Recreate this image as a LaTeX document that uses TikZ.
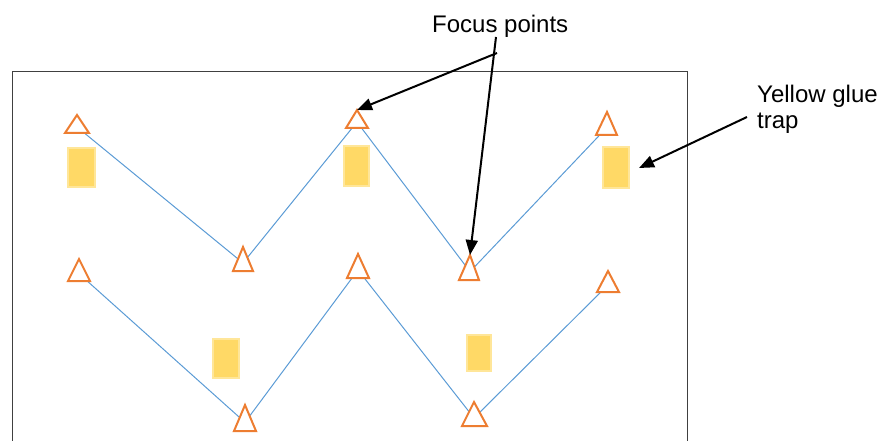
\documentclass[tikz,border=0pt]{standalone}
\usepackage{fontspec}
\setmainfont{Liberation Sans}
\usetikzlibrary{arrows.meta}
\definecolor{trapfill}{HTML}{FFD966}
\definecolor{trapedge}{HTML}{FFE699}
\definecolor{markorange}{HTML}{ED7D31}
\definecolor{pathblue}{HTML}{5B9BD5}
\definecolor{framegray}{HTML}{404040}
% \marker{name}{apex x}{apex y}{base y}{base left x}{base right x}
\newcommand\marker[6]{%
  \draw[markstyle] (#5,#4) -- (#2,#3) -- (#6,#4) -- cycle;
  \coordinate (#1-apex) at (#2,#3);
}
% centre points of the markers, used by the walking path
\newcommand\markcentre[4]{\coordinate (#1) at (#2,{#3+2*(#4-#3)/3});}
\begin{document}
\begin{tikzpicture}[x=1pt,y=-1pt,
  markstyle/.style={draw=markorange,line width=2pt,fill=white,line join=miter},
  walk/.style={draw=pathblue,line width=1pt},
  trapbox/.style={rectangle,fill=trapfill,draw=trapedge,line width=1.5pt,inner sep=0pt},
  callout/.style={draw=black,line width=2pt,-{Triangle[length=15pt,width=12pt]}},
  label/.style={inner sep=0pt,font=\fontsize{24}{26}\selectfont,align=left}]
\path[use as bounding box] (0,0) rectangle (889,441);

% field boundary (continues below the lower edge)
\draw[framegray,line width=1pt] (12,441) -- (12,72) -- (687,72) -- (687,441);

% marker centres
\markcentre{T1}{77}{115}{133}
\markcentre{T2}{243}{247}{271}
\markcentre{T3}{357}{110}{128}
\markcentre{T5}{470}{255}{280}
\markcentre{T4}{607}{112}{135}
\markcentre{T6}{79}{259}{281}
\markcentre{T7}{245}{405}{431}
\markcentre{T8}{358}{254}{278}
\markcentre{T9}{474}{402}{426}
\markcentre{T10}{608}{271}{292}

% walking routes
\draw[walk] (T1) -- (T2) -- (T3) -- (T5) -- (T4);
\draw[walk] (T6) -- (T7) -- (T8) -- (T9) -- (T10);

% focus point markers
\marker{T1}{77}{115}{133}{65}{89}
\marker{T2}{243}{247}{271}{233}{253}
\marker{T3}{357}{110}{128}{346}{368}
\marker{T4}{607}{112}{135}{596}{617}
\marker{T5}{470}{255}{280}{459}{479}
\marker{T6}{79}{259}{281}{68}{90}
\marker{T7}{245}{405}{431}{234}{256}
\marker{T8}{358}{254}{278}{347}{369}
\marker{T9}{474}{402}{426}{462}{487}
\marker{T10}{608}{271}{292}{597}{619}

% yellow glue traps
\node[trapbox,minimum width=27pt,minimum height=39pt] (R1) at (81.5,167.5) {};
\node[trapbox,minimum width=25pt,minimum height=40pt] (R2) at (356.5,166) {};
\node[trapbox,minimum width=26pt,minimum height=41pt] (R3) at (616,167.5) {};
\node[trapbox,minimum width=26pt,minimum height=39pt] (R4) at (226,358.5) {};
\node[trapbox,minimum width=24pt,minimum height=36pt] (R5) at (479,353) {};

% labels
\node[label,anchor=base west] (fp) at (432,33) {Focus points};
\node[label,anchor=north west] (yg) at (757,85) {Yellow glue\\trap};

% callout arrows
\coordinate (fpA) at (497,53);
\coordinate (fpB) at (496,37);
\coordinate (ygA) at (747,117);
\coordinate (ygTip) at (639,168);
\draw[callout] (fpA) -- (T3-apex);
\draw[callout] (fpB) -- (T5-apex);
\draw[callout] (ygA) -- (ygTip);
\end{tikzpicture}
\end{document}
